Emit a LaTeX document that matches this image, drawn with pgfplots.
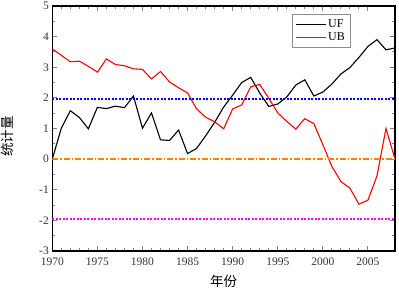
\documentclass[border=0pt]{standalone}
\usepackage{fontspec}
\setmainfont{Liberation Serif}
\newfontfamily\cjk{Noto Sans CJK SC}
\usepackage{pgfplots}
\pgfplotsset{compat=1.18}
\definecolor{cUB}{RGB}{255,0,0}
\definecolor{cBlue}{RGB}{0,0,255}
\definecolor{cOrange}{RGB}{255,128,0}
\definecolor{cMag}{RGB}{255,0,255}
\begin{document}
\begin{tikzpicture}
\begin{axis}[at={(0,0)}, anchor=south west, scale only axis,
  width=342.7pt, height=245pt,
  xmin=1970, xmax=2008, ymin=-3, ymax=5,
  xtick={1970,1975,...,2005}, minor x tick num=4,
  ytick={-3,-2,...,5}, minor y tick num=1,
  tick align=inside, major tick length=5pt, minor tick length=3pt,
  axis line style={line width=1.3pt},
  major tick style={line width=0.9pt},
  minor tick style={line width=0.9pt},
  /pgf/number format/assume math mode=true,
  /pgf/number format/1000 sep={},
  tick label style={font=\fontsize{11.5}{12}\selectfont, text=black!80},
  xticklabel style={yshift=-3pt},
  xlabel={\cjk 年份}, ylabel={\cjk 统计量},
  xlabel style={at={(axis description cs:0.5,-0.1245)}, anchor=center, font=\fontsize{13.5}{14}\selectfont},
  ylabel style={at={(axis description cs:-0.1307,0.467)}, anchor=center, font=\fontsize{13.5}{14}\selectfont},
  legend style={at={(rel axis cs:0.869,0.966)}, anchor=north east, draw=black!45,
    font=\fontsize{12}{13}\selectfont, inner xsep=3pt, inner ysep=3pt, row sep=0pt},
  legend cell align=left,
  legend image post style={xscale=1.75, draw=.},
]
\addplot[color=black, line width=1.1pt] coordinates {
(1970,0.0)(1971,1.01)(1972,1.58)(1973,1.36)(1974,0.99)(1975,1.69)(1976,1.65)(1977,1.73)(1978,1.68)(1979,2.06)
(1980,1.01)(1981,1.51)(1982,0.63)(1983,0.61)(1984,0.95)(1985,0.18)(1986,0.35)(1987,0.76)(1988,1.20)(1989,1.70)
(1990,2.09)(1991,2.50)(1992,2.67)(1993,2.16)(1994,1.72)(1995,1.80)(1996,2.03)(1997,2.42)(1998,2.59)(1999,2.06)
(2000,2.19)(2001,2.45)(2002,2.78)(2003,2.99)(2004,3.32)(2005,3.68)(2006,3.90)(2007,3.57)(2008,3.63)};
\addlegendentry{UF}
\addplot[color=cUB, line width=1.1pt] coordinates {
(1970,3.60)(1971,3.39)(1972,3.18)(1973,3.20)(1974,3.03)(1975,2.84)(1976,3.27)(1977,3.09)(1978,3.05)(1979,2.95)
(1980,2.93)(1981,2.62)(1982,2.86)(1983,2.52)(1984,2.33)(1985,2.16)(1986,1.64)(1987,1.37)(1988,1.22)(1989,0.99)
(1990,1.64)(1991,1.77)(1992,2.36)(1993,2.44)(1994,1.99)(1995,1.51)(1996,1.23)(1997,0.98)(1998,1.32)(1999,1.16)
(2000,0.47)(2001,-0.24)(2002,-0.73)(2003,-0.95)(2004,-1.47)(2005,-1.34)(2006,-0.55)(2007,1.00)(2008,0.0)};
\addlegendentry{UB}
\addplot[color=cBlue, line width=1.3pt, dash pattern=on 2pt off 1.5pt, forget plot] coordinates {(1970,1.96)(2008,1.96)};
\addplot[color=cOrange, line width=1.4pt, dash pattern=on 6pt off 2pt on 1.5pt off 2pt, forget plot] coordinates {(1970,0)(2008,0)};
\addplot[color=cMag, line width=1.4pt, dash pattern=on 2pt off 1.5pt, forget plot] coordinates {(1970,-1.96)(2008,-1.96)};
\end{axis}
\pgfresetboundingbox
\path (-52.3pt,-40pt) rectangle (346.7pt,251pt);
\end{tikzpicture}
\end{document}
